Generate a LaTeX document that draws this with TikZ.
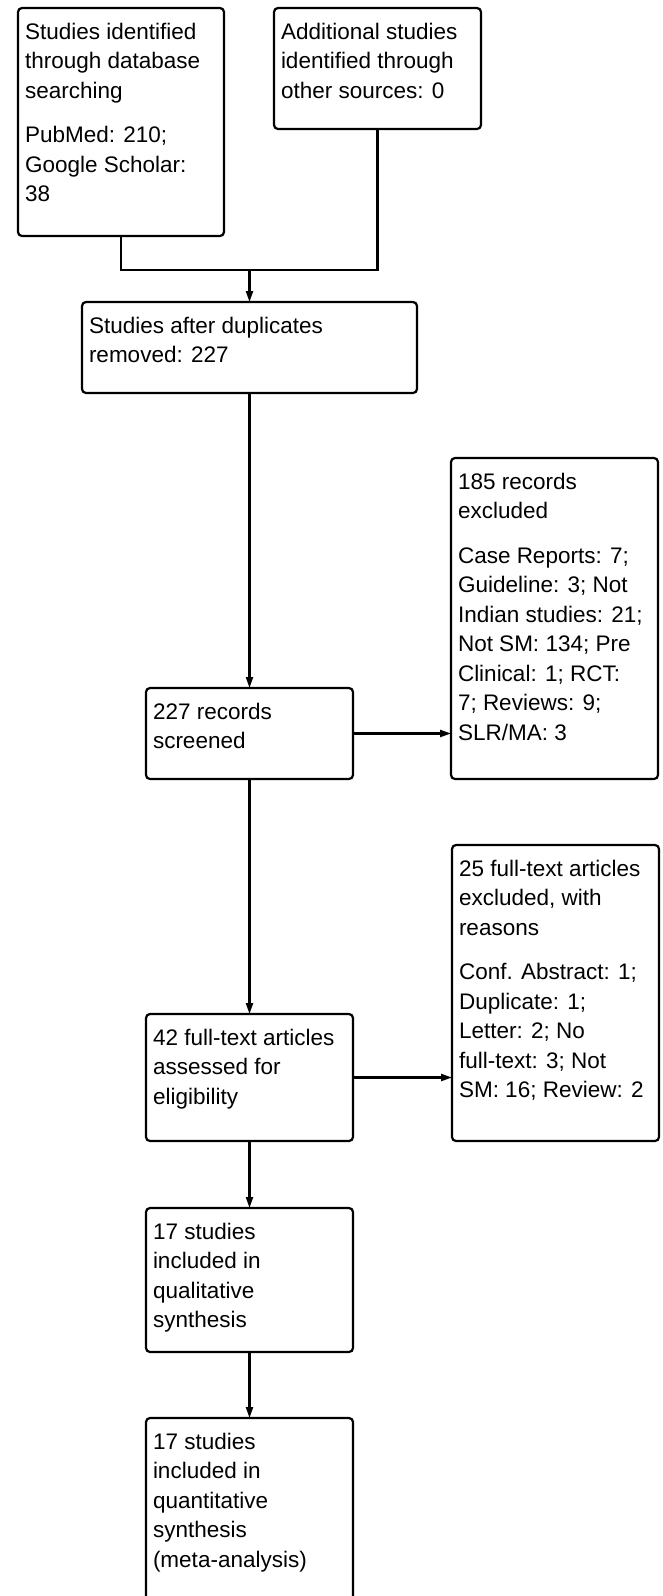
\documentclass[tikz,border=0pt]{standalone}
\usepackage{fontspec}
\setmainfont{Liberation Sans}
\usetikzlibrary{arrows.meta}
\newcommand{\boxtext}[3]{\parbox[t][#2][t]{#1}{\vspace*{10.5pt}\strut#3}}
\begin{document}
\begin{tikzpicture}[x=1pt,y=1pt,
  flowbox/.style={draw,line width=2.2pt,rounded corners=4pt,anchor=north west,
    inner xsep=7pt,inner ysep=0pt,outer sep=0pt,
    font=\fontsize{22.5}{29.5}\selectfont},
  flowarrow/.style={line width=2.2pt,-{Triangle[length=11pt,width=7pt]}}]
  \useasboundingbox (0,0) rectangle (663,-1596);
  \node[flowbox] (dbsearch) at (18,-8)
  {\boxtext{192pt}{228pt}{Studies identified\\through database\\searching\\[15pt]PubMed: 210;\\Google Scholar:\\38}};
  \node[flowbox] (othersrc) at (274,-8)
  {\boxtext{193pt}{121pt}{Additional studies\\identified through\\other sources: 0}};
  \node[flowbox] (dedup) at (82,-302)
  {\boxtext{321pt}{91pt}{Studies after duplicates\\removed: 227}};
  \node[flowbox] (screened) at (146,-688)
  {\boxtext{193pt}{91pt}{227 records\\screened}};
  \node[flowbox] (excl) at (451,-458)
  {\boxtext{193pt}{321pt}{185 records\\excluded\\[15pt]Case Reports: 7;\\Guideline: 3; Not\\Indian studies: 21;\\Not SM: 134; Pre\\Clinical: 1; RCT:\\7; Reviews: 9;\\SLR/MA: 3}};
  \node[flowbox] (fullexcl) at (452,-845)
  {\boxtext{193pt}{296pt}{25 full-text articles\\excluded, with\\reasons\\[15pt]Conf. Abstract: 1;\\Duplicate: 1;\\Letter: 2; No\\full-text: 3; Not\\SM: 16; Review: 2}};
  \node[flowbox] (eligible) at (146,-1014)
  {\boxtext{193pt}{127pt}{42 full-text articles\\assessed for\\eligibility}};
  \node[flowbox] (qualit) at (146,-1208)
  {\boxtext{193pt}{144pt}{17 studies\\included in\\qualitative\\synthesis}};
  \node[flowbox] (quantit) at (146,-1418)
  {\boxtext{193pt}{186pt}{17 studies\\included in\\quantitative\\synthesis\\(meta-analysis)}};
  \coordinate (merge) at (dedup.north |- 0,-270);
  \draw[line width=2.2pt] (dbsearch.south) |- (merge) -| (othersrc.south);
  \draw[flowarrow] (merge) -- (dedup.north);
  \draw[flowarrow] (dedup.south) -- (screened.north);
  \draw[flowarrow] (screened.east) -- (excl.west |- screened.east);
  \draw[flowarrow] (screened.south) -- (eligible.north);
  \draw[flowarrow] (eligible.east) -- (fullexcl.west |- eligible.east);
  \draw[flowarrow] (eligible.south) -- (qualit.north);
  \draw[flowarrow] (qualit.south) -- (quantit.north);
\end{tikzpicture}
\end{document}
